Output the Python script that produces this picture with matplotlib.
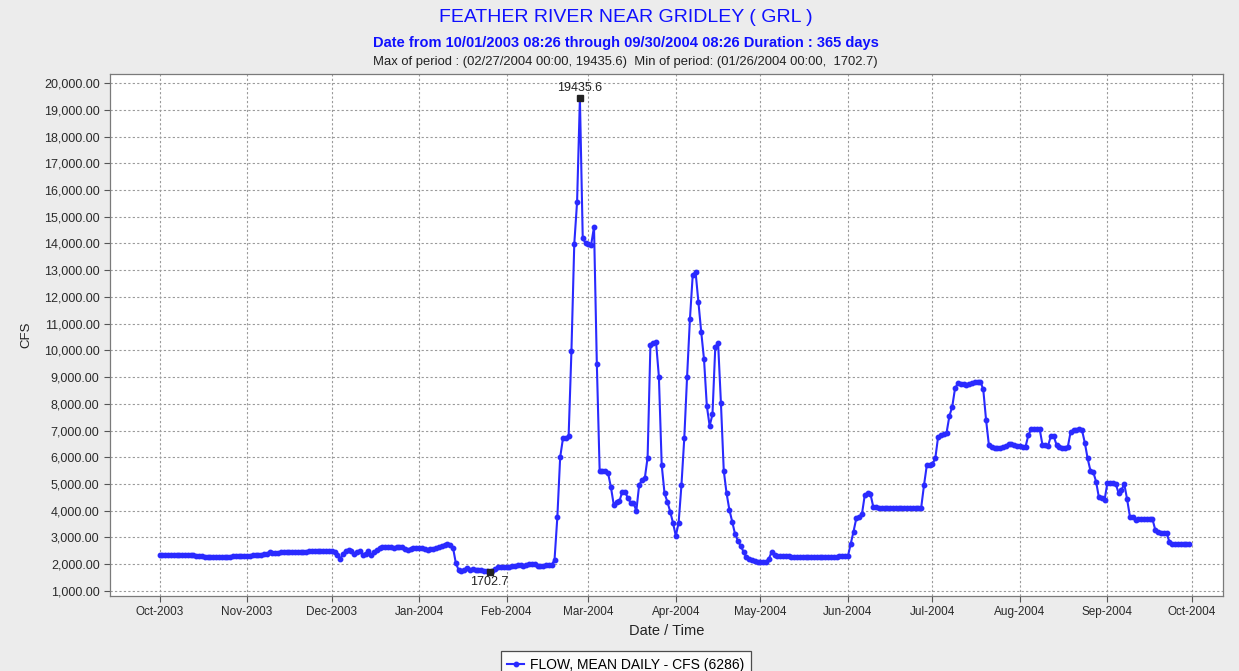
import matplotlib
matplotlib.use('Agg')
import matplotlib.pyplot as plt
import matplotlib.dates as mdates
from matplotlib.ticker import MultipleLocator, FuncFormatter
import pandas as pd
import numpy as np

# daily mean flow (cfs), Feather River near Gridley, WY 2004
oct_2003 = [2350, 2350, 2345, 2345, 2350, 2345, 2340, 2345, 2340, 2340,
            2335, 2340, 2330, 2320, 2300, 2290, 2280, 2280, 2275, 2270,
            2275, 2280, 2275, 2280, 2285, 2280, 2290, 2290, 2295, 2300, 2305]
nov_2003 = [2310, 2320, 2330, 2340, 2350, 2360, 2380, 2400, 2450, 2410,
            2420, 2430, 2440, 2440, 2450, 2450, 2455, 2460, 2460, 2465,
            2470, 2470, 2475, 2480, 2480, 2485, 2480, 2490, 2490, 2500]
dec_2003 = [2500, 2460, 2350, 2190, 2400, 2480, 2540, 2480, 2390, 2450,
            2480, 2360, 2400, 2480, 2350, 2450, 2540, 2600, 2640, 2650,
            2660, 2640, 2620, 2640, 2660, 2650, 2580, 2530, 2560, 2600, 2610]
jan_2004 = [2620, 2600, 2570, 2540, 2550, 2580, 2600, 2630, 2680, 2720,
            2750, 2700, 2620, 2050, 1780, 1760, 1800, 1850, 1800, 1830,
            1800, 1790, 1770, 1750, 1730, 1702.7, 1760, 1830, 1890, 1910, 1900]
feb_2004 = [1900, 1910, 1920, 1940, 1960, 1970, 1950, 1960, 2000, 2010,
            1990, 1950, 1920, 1940, 1960, 1970, 1980, 2160, 3760, 6000,
            6710, 6720, 6800, 9990, 13980, 15560, 19435.6, 14210, 14000]
mar_2004 = [13980, 13960, 14620, 9490, 5500, 5490, 5470, 5400, 4880, 4220,
            4340, 4350, 4710, 4710, 4470, 4300, 4300, 3990, 4960, 5150,
            5210, 5990, 10200, 10270, 10300, 9015, 5710, 4650, 4340, 3970, 3550]
apr_2004 = [3060, 3550, 4960, 6710, 9015, 11160, 12820, 12940, 11820, 10700,
            9665, 7920, 7170, 7610, 10140, 10270, 8020, 5500, 4650, 4030,
            3590, 3130, 2880, 2680, 2470, 2260, 2190, 2140, 2120, 2100]
may_2004 = [2090, 2080, 2100, 2200, 2470, 2350, 2310, 2300, 2300, 2290,
            2290, 2280, 2280, 2280, 2270, 2270, 2270, 2260, 2260, 2260,
            2260, 2270, 2270, 2270, 2270, 2280, 2280, 2280, 2290, 2290, 2290]
jun_2004 = [2290, 2760, 3220, 3720, 3780, 3880, 4590, 4650, 4630, 4150,
            4130, 4120, 4120, 4120, 4110, 4110, 4110, 4110, 4120, 4120,
            4120, 4110, 4110, 4110, 4110, 4120, 4120, 4960, 5710, 5710]
jul_2004 = [5750, 5960, 6770, 6830, 6860, 6920, 7545, 7890, 8580, 8770,
            8760, 8750, 8720, 8760, 8790, 8800, 8810, 8830, 8540, 7395,
            6460, 6400, 6360, 6340, 6340, 6380, 6420, 6500, 6480, 6460, 6440]
aug_2004 = [6420, 6400, 6400, 6830, 7050, 7060, 7060, 7060, 6460, 6450,
            6440, 6800, 6780, 6460, 6400, 6350, 6340, 6400, 6960, 7010,
            7030, 7040, 7020, 6550, 5960, 5500, 5450, 5090, 4500, 4480, 4400]
sep_2004 = [5030, 5030, 5020, 5000, 4650, 4780, 5000, 4430, 3780, 3760,
            3660, 3700, 3700, 3700, 3700, 3690, 3680, 3280, 3200, 3180,
            3170, 3160, 2840, 2750, 2750, 2745, 2745, 2745, 2745, 2745]

flow = np.array(oct_2003 + nov_2003 + dec_2003 + jan_2004 + feb_2004 + mar_2004
                + apr_2004 + may_2004 + jun_2004 + jul_2004 + aug_2004 + sep_2004)
start = pd.Timestamp('2003-10-01')
dates = pd.date_range(start, periods=len(flow), freq='D')

imax = int(flow.argmax())
imin = int(flow.argmin())

blue = '#2a2aff'
plt.rcParams['font.family'] = ['Liberation Sans', 'DejaVu Sans']

W, H = 1239, 671
fig = plt.figure(figsize=(W / 100, H / 100), dpi=100, facecolor='#ececec')
ax = fig.add_axes([110 / W, 1 - 596 / H, (1223 - 110) / W, (596 - 74) / H])
ax.set_facecolor('white')

ax.plot(dates, flow, color=blue, lw=1.5, marker='o', ms=3.2, mec=blue,
        label='FLOW, MEAN DAILY - CFS (6286)', zorder=3)

# max / min markers
ax.plot(dates[imax], flow[imax], 's', color='#222222', ms=4.5, zorder=4)
ax.plot(dates[imin], flow[imin], 's', color='#222222', ms=4.5, zorder=4)
ax.annotate(f'{flow[imax]:.1f}', (dates[imax], flow[imax]), xytext=(0, 3),
            textcoords='offset points', ha='center', va='bottom', fontsize=9,
            color='#222222')
ax.annotate(f'{flow[imin]:.1f}', (dates[imin], flow[imin]), xytext=(0, -3),
            textcoords='offset points', ha='center', va='top', fontsize=9,
            color='#222222')

ax.set_ylim(810, 20340)
ax.set_xlim(start - pd.Timedelta(days=17.6), start + pd.Timedelta(days=377))
ax.yaxis.set_major_locator(MultipleLocator(1000))
ax.yaxis.set_major_formatter(FuncFormatter(lambda v, _: f'{v:,.2f}'))
ax.xaxis.set_major_locator(mdates.MonthLocator())
ax.xaxis.set_major_formatter(mdates.DateFormatter('%b-%Y'))

ax.grid(True, ls=(0, (2, 2)), color='#9a9a9a', lw=0.8)
for s in ax.spines.values():
    s.set_color('#7a7a7a')
    s.set_linewidth(0.9)
ax.tick_params(axis='both', colors='#555555', length=4, width=0.8,
               labelcolor='#2a2a2a')
ax.tick_params(axis='y', labelsize=9)
ax.tick_params(axis='x', labelsize=8.5)

ax.set_ylabel('CFS', fontsize=9.5, color='#222222', labelpad=8)
ax.set_xlabel('Date / Time', fontsize=10.5, color='#222222', labelpad=4)

fig.text(0.505, 1 - 18 / H, 'FEATHER RIVER NEAR GRIDLEY ( GRL )', ha='center',
         va='center', fontsize=14, color='#1010ff')
fig.text(0.505, 1 - 43 / H,
         'Date from 10/01/2003 08:26 through 09/30/2004 08:26 Duration : 365 days',
         ha='center', va='center', fontsize=10.5, fontweight='bold',
         color='#1010ff')
fig.text(0.505, 1 - 62 / H,
         'Max of period : (02/27/2004 00:00, 19435.6)  Min of period: (01/26/2004 00:00,  1702.7)',
         ha='center', va='center', fontsize=9.4, color='#222222')

leg = fig.legend(loc='upper center', bbox_to_anchor=(0.505, 1 - 644 / H),
                 frameon=True, fancybox=False, fontsize=10,
                 handlelength=1.2, borderpad=0.5, handletextpad=0.4)
leg.get_frame().set_edgecolor('#222222')
leg.get_frame().set_linewidth(0.9)

fig.savefig('out.png', dpi=100, facecolor=fig.get_facecolor())
